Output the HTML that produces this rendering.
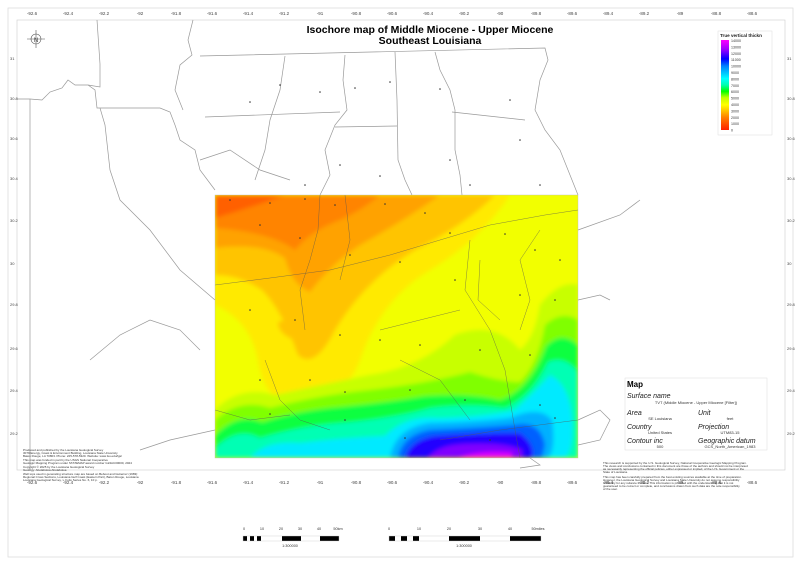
<!DOCTYPE html>
<html><head><meta charset="utf-8"><style>
html,body{margin:0;padding:0;background:#fff;}
svg{display:block;font-family:"Liberation Sans",sans-serif;}
</style></head><body>
<svg width="800" height="565" viewBox="0 0 800 565" xmlns="http://www.w3.org/2000/svg">
<defs>
<clipPath id="mc"><rect x="215" y="195" width="363" height="263"/></clipPath>
<filter id="bl" x="-5%" y="-5%" width="110%" height="110%"><feGaussianBlur stdDeviation="2"/></filter>
<linearGradient id="lg" x1="0" y1="1" x2="0" y2="0">
<stop offset="0" stop-color="#ff2000"/><stop offset="0.14" stop-color="#ff8000"/><stop offset="0.28" stop-color="#ffff00"/>
<stop offset="0.36" stop-color="#c0ff00"/><stop offset="0.43" stop-color="#00ff00"/><stop offset="0.5" stop-color="#00ffb0"/>
<stop offset="0.57" stop-color="#00ffff"/><stop offset="0.71" stop-color="#0080ff"/><stop offset="0.79" stop-color="#0000ff"/>
<stop offset="0.9" stop-color="#a000ff"/><stop offset="1" stop-color="#ff00ff"/></linearGradient>
</defs>
<rect x="8" y="8" width="785" height="549" fill="none" stroke="#ddd" stroke-width="0.8"/>
<rect x="17" y="20" width="768" height="450" fill="none" stroke="#ccc" stroke-width="0.6"/>
<g font-size="4.5" fill="#444" text-anchor="middle">
<text x="32" y="15">-92.6</text><text x="68" y="15">-92.4</text><text x="104" y="15">-92.2</text><text x="140" y="15">-92</text><text x="176" y="15">-91.8</text><text x="212" y="15">-91.6</text><text x="248" y="15">-91.4</text><text x="284" y="15">-91.2</text><text x="320" y="15">-91</text><text x="356" y="15">-90.8</text><text x="392" y="15">-90.6</text><text x="428" y="15">-90.4</text><text x="464" y="15">-90.2</text><text x="500" y="15">-90</text><text x="536" y="15">-89.8</text><text x="572" y="15">-89.6</text><text x="608" y="15">-89.4</text><text x="644" y="15">-89.2</text><text x="680" y="15">-89</text><text x="716" y="15">-88.8</text><text x="752" y="15">-88.6</text>
<text x="32" y="484">-92.6</text><text x="68" y="484">-92.4</text><text x="104" y="484">-92.2</text><text x="140" y="484">-92</text><text x="176" y="484">-91.8</text><text x="212" y="484">-91.6</text><text x="248" y="484">-91.4</text><text x="284" y="484">-91.2</text><text x="320" y="484">-91</text><text x="356" y="484">-90.8</text><text x="392" y="484">-90.6</text><text x="428" y="484">-90.4</text><text x="464" y="484">-90.2</text><text x="500" y="484">-90</text><text x="536" y="484">-89.8</text><text x="572" y="484">-89.6</text><text x="608" y="484">-89.4</text><text x="644" y="484">-89.2</text><text x="680" y="484">-89</text><text x="716" y="484">-88.8</text><text x="752" y="484">-88.6</text>
</g>
<g font-size="4" fill="#444">
<text x="10" y="60">31</text><text x="10" y="100">30.8</text><text x="10" y="140">30.6</text><text x="10" y="180">30.4</text><text x="10" y="222">30.2</text><text x="10" y="265">30</text><text x="10" y="306">29.8</text><text x="10" y="350">29.6</text><text x="10" y="392">29.4</text><text x="10" y="435">29.2</text>
<text x="787" y="60">31</text><text x="787" y="100">30.8</text><text x="787" y="140">30.6</text><text x="787" y="180">30.4</text><text x="787" y="222">30.2</text><text x="787" y="265">30</text><text x="787" y="306">29.8</text><text x="787" y="350">29.6</text><text x="787" y="392">29.4</text><text x="787" y="435">29.2</text>
</g>
<g fill="none" stroke="#999" stroke-width="0.7">
<path d="M17,99 L30,99 L42,100 L50,92 L62,88 L68,80 L75,85 L88,85 L100,87 L100,64 L97,20"/>
<path d="M30,99 L30,470"/>
<path d="M88,85 L95,90 L97,108 L160,108 L170,112 L175,125 L180,140 L195,150 L200,170 L215,190"/>
<path d="M100,108 L105,125 L110,170 L120,200 L150,230 L180,270 L215,300"/>
<path d="M193,20 L188,40 L192,55 L180,65 L175,90 L183,110"/>
<path d="M200,56 L545,48 L548,60 L540,80 L535,110 L545,130 L560,150 L570,175 L578,195"/>
<path d="M285,56 L280,90 L270,120 L265,150 L255,180"/>
<path d="M345,55 L343,80 L347,110 L335,125 L325,150 L330,175 L320,195"/>
<path d="M395,52 L397,100 L398,160 L405,180 L412,195"/>
<path d="M435,52 L440,70 L450,90 L455,110 L455,150 L460,175 L462,195"/>
<path d="M205,117 L340,112"/><path d="M335,127 L397,126"/><path d="M452,112 L525,120"/>
<path d="M200,160 L230,150 L260,170 L290,180"/>
<path d="M578,230 L620,215 L640,200"/><path d="M578,300 L600,295 L610,300"/>
<path d="M200,350 L180,330 L150,320 L120,335 L90,360"/><path d="M215,430 L170,440 L140,450"/>
<path d="M578,420 L600,410 L610,420 L600,440 L578,445"/>
<path d="M530,458 L540,465 L520,468"/>
</g>
<g clip-path="url(#mc)">
<rect x="215" y="195" width="363" height="263" fill="#f2ff00"/>
<g filter="url(#bl)">
<path fill="#ffea00" d="M215,195 L510,195 Q480,240 430,270 Q380,300 360,360 Q345,400 300,405 Q265,405 258,360 Q250,320 215,305 Z"/>
<path fill="#ffc400" d="M215,195 L495,195 Q465,225 415,250 Q365,280 335,330 Q315,370 298,355 Q282,310 262,290 Q240,275 215,275 Z"/>
<path fill="#ffa200" d="M215,195 L440,195 Q405,220 360,245 Q330,265 310,292 Q292,285 285,258 Q262,242 215,248 Z"/>
<path fill="#ff8400" d="M215,195 L380,195 Q360,212 335,222 Q310,232 295,250 Q270,232 215,228 Z"/>
<path fill="#ff6000" d="M215,195 L285,195 Q250,208 215,218 Z"/>
<path fill="#ffc400" d="M278,322 Q292,318 298,330 Q300,342 290,338 Q278,332 278,322 Z"/>
<path fill="#ffc400" d="M470,370 Q480,360 495,368 Q495,380 480,382 Q468,380 470,370 Z"/>
<path fill="#c8ff00" d="M215,410 Q240,385 275,395 Q320,385 370,375 Q420,368 455,335 Q495,320 520,350 Q535,338 540,305 Q560,280 578,285 L578,458 L215,458 Z"/>
<path fill="#80ff00" d="M215,420 Q240,398 270,408 Q320,395 370,390 Q430,383 470,372 Q500,382 520,382 Q538,365 545,325 Q562,310 578,320 L578,458 L215,458 Z"/>
<path fill="#10ff40" d="M215,435 Q238,412 262,422 Q300,410 340,407 Q390,402 425,396 Q470,393 500,400 Q530,390 546,346 Q562,330 578,345 L578,458 L215,458 Z"/>
<path fill="#00ffb4" d="M215,458 L215,448 Q238,426 260,438 Q300,426 340,423 Q395,418 430,408 Q470,403 505,408 Q532,396 548,362 Q565,355 578,372 L578,458 Z"/>
<path fill="#00eaff" d="M250,458 Q265,440 300,443 Q340,438 385,436 Q405,415 440,418 Q490,416 515,410 Q535,392 550,375 Q570,385 572,420 Q574,450 565,458 Z"/>
<path fill="#00b0ff" d="M390,458 Q395,428 430,423 Q475,422 510,418 Q540,405 552,420 Q556,450 548,458 Z"/>
<path fill="#0060ff" d="M398,458 Q402,435 430,430 Q475,428 515,425 Q540,420 545,445 L542,458 Z"/>
<path fill="#2000ff" d="M405,458 Q410,440 435,436 Q480,433 520,433 Q536,445 532,458 Z"/>
<path fill="#8000ff" d="M428,458 Q438,445 465,444 Q505,442 522,450 L522,458 Z"/>
<path fill="#e000ff" d="M458,458 Q480,450 512,453 L512,458 Z"/>
</g>
<g fill="none" stroke="#555" stroke-width="0.5" opacity="0.7">
<path d="M320,195 L318,230 L310,260 L300,290 L305,330"/><path d="M345,195 L350,240 L340,280"/>
<path d="M215,285 L270,278 L330,270 L390,255 L440,240 L490,225 L545,215 L578,210"/>
<path d="M470,240 L465,290 L490,330 L505,370 L515,430 L520,458"/>
<path d="M480,260 L478,300 L500,320"/><path d="M540,230 L520,260 L530,300 L520,330"/>
<path d="M265,360 L280,400 L300,420 L330,430"/><path d="M215,410 L250,420 L290,415"/>
<path d="M380,330 L420,320 L460,310"/><path d="M400,360 L440,380 L470,420"/>
<path d="M440,440 L500,430 L578,420"/>
</g>
</g>
<rect x="215" y="195" width="363" height="263" fill="none" stroke="#bbb" stroke-width="0.4"/>
<g fill="#333">
<circle cx="230" cy="200" r="0.8"/><circle cx="270" cy="203" r="0.8"/><circle cx="305" cy="199" r="0.8"/><circle cx="335" cy="205" r="0.8"/><circle cx="385" cy="204" r="0.8"/><circle cx="425" cy="213" r="0.8"/><circle cx="450" cy="233" r="0.8"/><circle cx="505" cy="234" r="0.8"/><circle cx="535" cy="250" r="0.8"/><circle cx="560" cy="260" r="0.8"/><circle cx="260" cy="225" r="0.8"/><circle cx="300" cy="238" r="0.8"/><circle cx="350" cy="255" r="0.8"/><circle cx="400" cy="262" r="0.8"/><circle cx="455" cy="280" r="0.8"/><circle cx="520" cy="295" r="0.8"/><circle cx="555" cy="300" r="0.8"/><circle cx="250" cy="310" r="0.8"/><circle cx="295" cy="320" r="0.8"/><circle cx="340" cy="335" r="0.8"/><circle cx="380" cy="340" r="0.8"/><circle cx="420" cy="345" r="0.8"/><circle cx="480" cy="350" r="0.8"/><circle cx="530" cy="355" r="0.8"/><circle cx="260" cy="380" r="0.8"/><circle cx="310" cy="380" r="0.8"/><circle cx="345" cy="392" r="0.8"/><circle cx="410" cy="390" r="0.8"/><circle cx="465" cy="400" r="0.8"/><circle cx="540" cy="405" r="0.8"/><circle cx="270" cy="414" r="0.8"/><circle cx="345" cy="420" r="0.8"/><circle cx="405" cy="438" r="0.8"/><circle cx="490" cy="440" r="0.8"/><circle cx="555" cy="418" r="0.8"/>
<circle cx="280" cy="85" r="0.8"/><circle cx="320" cy="92" r="0.8"/><circle cx="355" cy="88" r="0.8"/><circle cx="390" cy="82" r="0.8"/><circle cx="440" cy="89" r="0.8"/><circle cx="510" cy="100" r="0.8"/><circle cx="250" cy="102" r="0.8"/><circle cx="340" cy="165" r="0.8"/><circle cx="450" cy="160" r="0.8"/><circle cx="520" cy="140" r="0.8"/><circle cx="305" cy="185" r="0.8"/><circle cx="380" cy="176" r="0.8"/><circle cx="470" cy="185" r="0.8"/><circle cx="540" cy="185" r="0.8"/>
</g>
<g font-weight="bold" font-size="10.5" fill="#000" text-anchor="middle">
<text x="430" y="33">Isochore map of Middle Miocene - Upper Miocene</text>
<text x="430" y="44">Southeast Louisiana</text>
</g>
<g stroke="#555" fill="none" stroke-width="0.6">
<circle cx="36" cy="39" r="5"/><path d="M36,30 L36,48 M27,39 L45,39"/>
</g>
<text x="36" y="42" font-size="6" text-anchor="middle" fill="#333">N</text>
<rect x="718" y="31" width="54" height="104" fill="#fff" stroke="#ddd" stroke-width="0.5"/>
<text x="720" y="37" font-size="4.6" font-weight="bold" fill="#222">True vertical thickn</text>
<rect x="721" y="40" width="8" height="90" fill="url(#lg)"/>
<g font-size="3.6" fill="#333">
<text x="731" y="42">14000</text><text x="731" y="48.4">13000</text><text x="731" y="54.8">12000</text><text x="731" y="61.2">11000</text><text x="731" y="67.6">10000</text><text x="731" y="74">9000</text><text x="731" y="80.4">8000</text><text x="731" y="86.8">7000</text><text x="731" y="93.2">6000</text><text x="731" y="99.6">5000</text><text x="731" y="106">4000</text><text x="731" y="112.4">3000</text><text x="731" y="118.8">2000</text><text x="731" y="125.2">1000</text><text x="731" y="131.6">0</text>
</g>
<g>
<rect x="625" y="378" width="142" height="72" fill="#fff" stroke="#ddd" stroke-width="0.5"/>
<text x="627" y="387" font-size="8" font-weight="bold">Map</text>
<g font-size="7" font-style="italic" fill="#222">
<text x="627" y="398">Surface name</text><text x="627" y="415">Area</text><text x="698" y="415">Unit</text>
<text x="627" y="429">Country</text><text x="698" y="429">Projection</text><text x="627" y="443">Contour inc</text><text x="698" y="443">Geographic datum</text>
</g>
<g font-size="4" fill="#333" text-anchor="middle">
<text x="696" y="404">TVT (Middle Miocene - Upper Miocene [Filter])</text>
<text x="660" y="420">SE Louisiana</text><text x="730" y="420">feet</text>
<text x="660" y="434">United States</text><text x="730" y="434">UTM83-15</text>
<text x="660" y="448">500</text><text x="730" y="448">GCS_North_American_1983</text>
</g>
</g>
<g font-size="3" fill="#333">
<text x="603" y="464">This research is supported by the U.S. Geological Survey, National Cooperative Geologic Mapping Program.</text>
<text x="603" y="467">The views and conclusions contained in this document are those of the authors and should not be interpreted</text>
<text x="603" y="470">as necessarily representing the official policies, either expressed or implied, of the U.S. Government or the</text>
<text x="603" y="473">State of Louisiana.</text>
<text x="603" y="478">This map has been carefully prepared from the best existing sources available at the time of preparation.</text>
<text x="603" y="481">However, the Louisiana Geological Survey and Louisiana State University do not assume responsibility</text>
<text x="603" y="484">or liability for any reliance thereon. This information is provided with the understanding that it is not</text>
<text x="603" y="487">guaranteed to be correct or complete, and conclusions drawn from such data are the sole responsibility</text>
<text x="603" y="490">of the user.</text>
<text x="23" y="451">Produced and published by the Louisiana Geological Survey</text>
<text x="23" y="454">3079 Energy, Coast &amp; Environment Building, Louisiana State University</text>
<text x="23" y="457">Baton Rouge, LA 70803. Phone: 225-578-5320. Website: www.lsu.edu/lgs/</text>
<text x="23" y="461">This map was funded in part by the USGS National Cooperative</text>
<text x="23" y="464">Geologic Mapping Program under STATEMAP award number G24AC00000, 2024</text>
<text x="23" y="468">Copyright © 2025 by the Louisiana Geological Survey</text>
<text x="23" y="471">Geology: Abolaboloa Abolaboloa</text>
<text x="23" y="475">Well tops used in generating structure map are based on Bebout and Gutierrez (1983):</text>
<text x="23" y="478">Regional Cross Sections, Louisiana Gulf Coast (Eastern Part), Baton Rouge, Louisiana</text>
<text x="23" y="481">Louisiana Geological Survey, v. Folio Series No. 6, 10 p.</text>
</g>
<g fill="#000">
<rect x="243" y="536" width="4" height="5"/><rect x="250" y="536" width="4" height="5"/><rect x="257" y="536" width="4" height="5"/><rect x="282" y="536" width="19" height="5"/><rect x="320" y="536" width="19" height="5"/>
<rect x="389" y="536" width="6" height="5"/><rect x="401" y="536" width="6" height="5"/><rect x="413" y="536" width="6" height="5"/><rect x="449" y="536" width="31" height="5"/><rect x="510" y="536" width="31" height="5"/>
</g>
<g fill="none" stroke="#ccc" stroke-width="0.4"><rect x="243" y="536" width="96" height="5"/><rect x="389" y="536" width="152" height="5"/></g>
<g font-size="3.8" fill="#333" text-anchor="middle">
<text x="244" y="530">0</text><text x="262" y="530">10</text><text x="281" y="530">20</text><text x="300" y="530">30</text><text x="319" y="530">40</text><text x="338" y="530">50km</text>
<text x="389" y="530">0</text><text x="419" y="530">10</text><text x="449" y="530">20</text><text x="480" y="530">30</text><text x="510" y="530">40</text><text x="538" y="530">50miles</text>
<text x="290" y="547">1:300000</text><text x="464" y="547">1:300000</text>
</g>
</svg>
</body></html>
